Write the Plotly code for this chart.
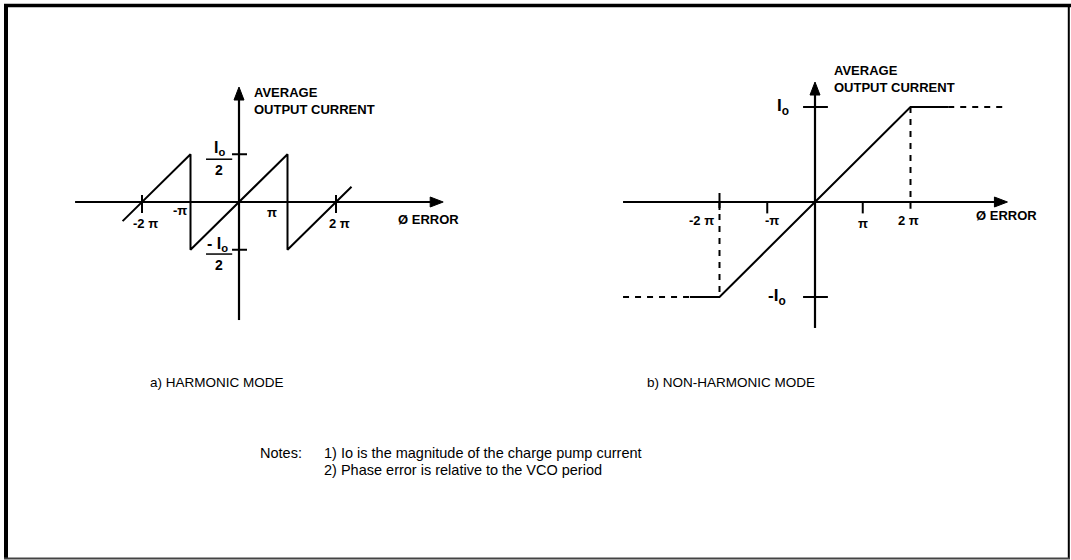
import plotly.graph_objects as go

# Phase error in units of pi, output current in units of Io
harmonic_phase = [-2.4, -1.0, -1.0, 1.0, 1.0, 2.32]
harmonic_current = [-0.2, 0.5, -0.5, 0.5, -0.5, 0.16]

linear_phase = [-2.62, -2.0, 2.0, 2.79]
linear_current = [-1.0, -1.0, 1.0, 1.0]

# Dashed saturation extensions of the non-harmonic curve
sat_left_phase = [-4.02, -2.62]
sat_right_phase = [2.79, 4.02]
sat_level = [1.0, 1.0]

x_tick_labels = ["-2 π", "-π", "π", "2 π"]
x_tick_values = [-2, -1, 1, 2]

W, H = 1071, 560
FONT = "Liberation Sans, Arial, sans-serif"
BLACK = "#000000"

# pixel layout of the two panels: (origin x, origin y, px per pi, px per Io)
LEFT = dict(ox=239, oy=202, sx=48.5, sy=95.5)
RIGHT = dict(ox=815, oy=202, sx=47.75, sy=95.0)
PX_L = (40, 500)
PX_R = (560, 1065)
PY = (40, 350)


def xrange_for(p, px):
    return [(px[0] - p["ox"]) / p["sx"], (px[1] - p["ox"]) / p["sx"]]


def yrange_for(p):
    return [(p["oy"] - PY[1]) / p["sy"], (p["oy"] - PY[0]) / p["sy"]]


fig = go.Figure()

line_style = dict(color=BLACK, width=2)

fig.add_trace(go.Scatter(x=harmonic_phase, y=harmonic_current, mode="lines",
                         line=line_style, xaxis="x", yaxis="y",
                         hoverinfo="skip", showlegend=False))
fig.add_trace(go.Scatter(x=linear_phase, y=linear_current, mode="lines",
                         line=line_style, xaxis="x2", yaxis="y2",
                         hoverinfo="skip", showlegend=False))

dash = dict(color=BLACK, width=2, dash="6px,6px")
for xs, ys in [
    (sat_left_phase, [-v for v in sat_level]),
    (sat_right_phase, sat_level),
    ([-2.0, -2.0], [0.0, -1.0]),
    ([2.0, 2.0], [1.0, -0.07]),
]:
    fig.add_trace(go.Scatter(x=xs, y=ys, mode="lines", line=dash,
                             xaxis="x2", yaxis="y2",
                             hoverinfo="skip", showlegend=False))

shapes = []
annotations = []


def seg(xref, yref, x0, y0, x1, y1, width=2):
    shapes.append(dict(type="line", xref=xref, yref=yref, x0=x0, y0=y0,
                       x1=x1, y1=y1, line=dict(color=BLACK, width=width)))


def arrow(p, xref, yref, x0, y0, x1, y1, length=13, half=5):
    """Axis line with a filled triangular head at (x1, y1)."""
    if y0 == y1:  # horizontal
        dx = length / p["sx"]
        hw = half / p["sy"]
        seg(xref, yref, x0, y0, x1 - dx * 0.5, y1, width=2.2)
        path = (f"M{x1},{y1} L{x1 - dx},{y1 + hw} "
                f"L{x1 - dx},{y1 - hw} Z")
    else:  # vertical
        dy = length / p["sy"]
        hw = half / p["sx"]
        seg(xref, yref, x0, y0, x1, y1 - dy * 0.5, width=2.2)
        path = (f"M{x1},{y1} L{x1 - hw},{y1 - dy} "
                f"L{x1 + hw},{y1 - dy} Z")
    shapes.append(dict(type="path", xref=xref, yref=yref, path=path,
                       fillcolor=BLACK, line=dict(color=BLACK, width=1)))


def label(xref, yref, x, y, text, size=12, bold=True, xanchor="center",
          yanchor="middle", align="center"):
    if bold:
        text = "<b>" + text + "</b>"
    annotations.append(dict(xref=xref, yref=yref, x=x, y=y, text=text,
                            showarrow=False, xanchor=xanchor, yanchor=yanchor,
                            align=align,
                            font=dict(family=FONT, size=size, color=BLACK)))


# ---- a) harmonic mode ----
arrow(LEFT, "x", "y", -3.38, 0, 4.21, 0)
arrow(LEFT, "x", "y", 0, -1.236, 0, 1.204)
for yv in (0.5, -0.5):
    seg("x", "y", -0.144, yv, 0.165, yv)
for xv in (-2, 2):
    seg("x", "y", xv, 0.073, xv, -0.115)

label("x", "y", -1.93, -0.22, x_tick_labels[0], size=13)
label("x", "y", -1.22, -0.09, x_tick_labels[1], size=13)
label("x", "y", 0.68, -0.115, x_tick_labels[2], size=13)
label("x", "y", 2.08, -0.23, x_tick_labels[3], size=13)
label("x", "y", 3.90, -0.178, "Ø ERROR", size=13)
label("x", "y", 0.27, 1.058, "AVERAGE<br>OUTPUT CURRENT", size=13,
      xanchor="left", align="left")

# Io/2 fractions
label("x", "y", -0.41, 0.56, "I<sub>o</sub>", size=16)
seg("x", "y", -0.68, 0.448, -0.14, 0.448, width=1.5)
label("x", "y", -0.41, 0.33, "2", size=14)
label("x", "y", -0.45, -0.45, "- I<sub>o</sub>", size=16)
seg("x", "y", -0.68, -0.545, -0.14, -0.545, width=1.5)
label("x", "y", -0.41, -0.66, "2", size=14)

# ---- b) non-harmonic mode ----
arrow(RIGHT, "x2", "y2", -4.02, 0, 4.03, 0)
arrow(RIGHT, "x2", "y2", 0, -1.326, 0, 1.263)
for yv in (1.0, -1.0):
    seg("x2", "y2", -0.25, yv, 0.27, yv)
seg("x2", "y2", -2, 0.095, -2, -0.084)
for xv in (-1, 1):
    seg("x2", "y2", xv, 0.0, xv, -0.12)

label("x2", "y2", -2.37, -0.19, x_tick_labels[0], size=13)
label("x2", "y2", -0.90, -0.19, x_tick_labels[1], size=13)
label("x2", "y2", 1.0, -0.23, x_tick_labels[2], size=13)
label("x2", "y2", 1.95, -0.19, x_tick_labels[3], size=13)
label("x2", "y2", 4.0, -0.14, "Ø ERROR", size=13)
label("x2", "y2", 0.36, 1.29, "AVERAGE<br>OUTPUT CURRENT", size=13,
      xanchor="left", align="left")
label("x2", "y2", -0.67, 1.0, "I<sub>o</sub>", size=17)
label("x2", "y2", -0.80, -1.0, "-I<sub>o</sub>", size=17)

# ---- captions and notes (paper coordinates) ----
def paper_label(px, py, text, size=13, xanchor="left"):
    annotations.append(dict(xref="paper", yref="paper", x=px / W,
                            y=1 - py / H, text=text, showarrow=False,
                            xanchor=xanchor, yanchor="middle", align="left",
                            font=dict(family=FONT, size=size, color=BLACK)))


paper_label(148, 382, "a) HARMONIC MODE", size=13.5)
paper_label(645, 382, "b) NON-HARMONIC MODE", size=13.5)
paper_label(258, 453, "Notes:", size=14.5)
paper_label(322, 453, "1) Io is the magnitude of the charge pump current",
            size=14.5)
paper_label(322, 470, "2) Phase error is relative to the VCO period",
            size=14.5)

# frame around the figure
def frame(x0, y0, x1, y1, width, color=BLACK):
    shapes.append(dict(type="line", xref="paper", yref="paper",
                       x0=x0 / W, y0=1 - y0 / H, x1=x1 / W, y1=1 - y1 / H,
                       line=dict(color=color, width=width)))


frame(6, 4, 6, 559, 4)
frame(4, 5.5, 1071, 5.5, 3.5)
frame(1068.8, 4, 1068.8, 559, 2)
frame(4, 558.6, 1070, 558.6, 2, color="#444444")

ax_common = dict(visible=False, fixedrange=True, showgrid=False,
                 zeroline=False)

fig.update_layout(
    width=W, height=H,
    margin=dict(l=0, r=0, t=0, b=0),
    paper_bgcolor="white", plot_bgcolor="white",
    xaxis=dict(domain=[PX_L[0] / W, PX_L[1] / W],
               range=xrange_for(LEFT, PX_L), anchor="y", **ax_common),
    yaxis=dict(domain=[1 - PY[1] / H, 1 - PY[0] / H],
               range=yrange_for(LEFT), anchor="x", **ax_common),
    xaxis2=dict(domain=[PX_R[0] / W, PX_R[1] / W],
                range=xrange_for(RIGHT, PX_R), anchor="y2", **ax_common),
    yaxis2=dict(domain=[1 - PY[1] / H, 1 - PY[0] / H],
                range=yrange_for(RIGHT), anchor="x2", **ax_common),
    shapes=shapes,
    annotations=annotations,
    showlegend=False,
)

fig.write_html("out.html")
